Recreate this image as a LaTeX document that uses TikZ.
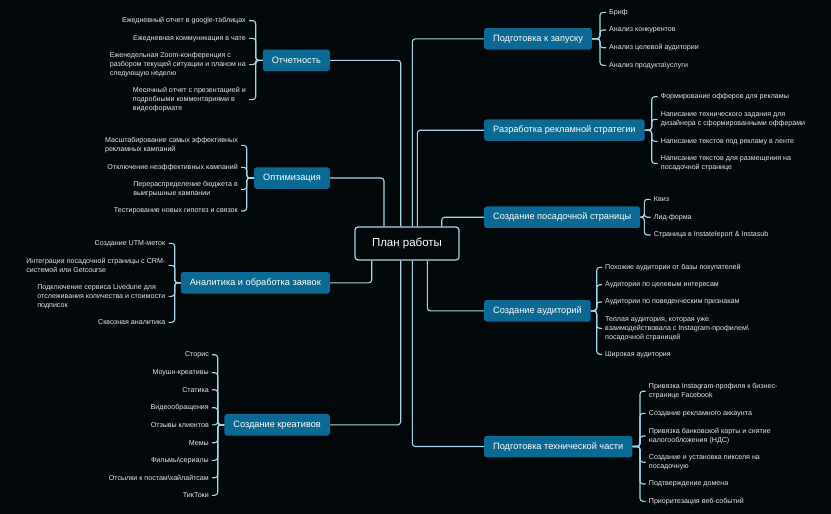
\documentclass[tikz,border=0pt]{standalone}
\usepackage{fontspec}
\setmainfont{Liberation Sans}
\definecolor{bg}{HTML}{03080B}
\definecolor{boxc}{HTML}{0B6A93}
\definecolor{linec}{HTML}{A6D6E6}
\definecolor{txt}{HTML}{E6E6E6}
\begin{document}
\begin{tikzpicture}[x=1pt,y=-1pt,
 main/.style={fill=boxc,text=white,rounded corners=2.5pt,font=\fontsize{9.2}{11}\selectfont,minimum height=21.5pt,inner xsep=9pt,inner ysep=0pt},
 lfL/.style={anchor=east,align=left,text=txt,font=\fontsize{7.1}{9}\selectfont,inner sep=0pt},
 lfR/.style={anchor=west,align=left,text=txt,font=\fontsize{7.1}{9}\selectfont,inner sep=0pt},
 conn/.style={draw=linec,line width=1.1pt,rounded corners=3pt}]
\fill[bg] (0,0) rectangle (831,514);
\useasboundingbox (0,0) rectangle (831,514);

% center
\node[draw=linec,fill=bg,line width=1.2pt,rounded corners=3pt,minimum width=104pt,minimum height=33pt,font=\fontsize{11.5}{13}\selectfont,text=white] (c) at (407,243.5) {План работы};

% main nodes
\node[main,anchor=east] (mO) at (330,60.3) {Отчетность};
\node[main,anchor=east] (mP) at (330,178) {Оптимизация};
\node[main,anchor=east] (mA) at (330,282.8) {Аналитика и обработка заявок};
\node[main,anchor=east] (mK) at (330,424.8) {Создание креативов};
\node[main,anchor=west] (mZ) at (484,38.8) {Подготовка к запуску};
\node[main,anchor=west] (mR) at (484,130.2) {Разработка рекламной стратегии};
\node[main,anchor=west] (mS) at (484,217.2) {Создание посадочной страницы};
\node[main,anchor=west] (mU) at (484,310.8) {Создание аудиторий};
\node[main,anchor=west] (mT) at (484,446.5) {Подготовка технической части};

% main connectors
\draw[conn] ([xshift=-6.3pt]c.north) |- (mO.east);
\draw[conn] ([xshift=-23pt]c.north) |- (mP.east);
\draw[conn] ([xshift=-35.3pt]c.south) |- (mA.east);
\draw[conn] ([xshift=-6.3pt]c.south) |- (mK.east);
\draw[conn] ([xshift=5.3pt]c.north) |- (mZ.west);
\draw[conn] ([xshift=10.3pt]c.north) |- (mR.west);
\draw[conn] ([xshift=34.7pt]c.north) |- (mS.west);
\draw[conn] ([xshift=20.3pt]c.south) |- (mU.west);
\draw[conn] ([xshift=5.3pt]c.south) |- (mT.west);

% spines
\coordinate (sO) at (255.7,0);
\coordinate (sP) at (246.7,0);
\coordinate (sA) at (174.7,0);
\coordinate (sK) at (217.7,0);
\coordinate (sZ) at (600,0);
\coordinate (sR) at (651.7,0);
\coordinate (sS) at (644.3,0);
\coordinate (sU) at (596.7,0);
\coordinate (sT) at (640,0);

% Отчетность leaves
\node[lfL] (o1) at (246,20.7) {Ежедневный отчет в google-таблицах};
\node[lfL] (o2) at (246,38.3) {Ежедневная коммуникация в чате};
\node[lfL] (o3) at (246,64.6) {Еженедельная Zoom-конференция с\\разбором текущей ситуации и планом на\\следующую неделю};
\node[lfL] (o4) at (246,99.6) {Месячный отчет с презентацией и\\подробными комментариями в\\видеоформате};
\foreach \n in {o1,o2,o3,o4}
  \draw[conn] (mO.west) -- (mO.west -| sO) |- ([xshift=3pt]\n.east);

% Оптимизация leaves
\node[lfL] (p1) at (238,145.4) {Масштабирование самых эффективных\\рекламных кампаний};
\node[lfL] (p2) at (238,167.3) {Отключение неэффективных кампаний};
\node[lfL] (p3) at (238,189.5) {Перераспределение бюджета в\\выигрышные кампании};
\node[lfL] (p4) at (238,211) {Тестирование новых гипотез и связок};
\foreach \n in {p1,p2,p3,p4}
  \draw[conn] (mP.west) -- (mP.west -| sP) |- ([xshift=3pt]\n.east);

% Аналитика leaves
\node[lfL] (a1) at (165.5,243.3) {Создание UTM-меток};
\node[lfL] (a2) at (165.5,265.3) {Интеграция посадочной страницы с CRM-\\системой или Getcourse};
\node[lfL] (a3) at (165.5,296.3) {Подключение сервиса Livedune для\\отслеживания количества и стоимости\\подписок};
\node[lfL] (a4) at (165.5,322.3) {Сквозная аналитика};
\foreach \n in {a1,a2,a3,a4}
  \draw[conn] (mA.west) -- (mA.west -| sA) |- ([xshift=3pt]\n.east);

% Креативы leaves
\node[lfL] (k1) at (209,354.7) {Сторис};
\node[lfL] (k2) at (209,372.7) {Моушн-креативы};
\node[lfL] (k3) at (209,389.7) {Статика};
\node[lfL] (k4) at (209,407.7) {Видеообращения};
\node[lfL] (k5) at (209,424.8) {Отзывы клиентов};
\node[lfL] (k6) at (209,442.7) {Мемы};
\node[lfL] (k7) at (209,460.3) {Фильмы\textbackslash{}сериалы};
\node[lfL] (k8) at (209,477.7) {Отсылки к постам\textbackslash{}хайлайтсам};
\node[lfL] (k9) at (209,495.3) {ТикТоки};
\foreach \n in {k1,k2,k3,k4,k5,k6,k7,k8,k9}
  \draw[conn] (mK.west) -- (mK.west -| sK) |- ([xshift=3pt]\n.east);

% Подготовка к запуску leaves
\node[lfR] (z1) at (609,12.3) {Бриф};
\node[lfR] (z2) at (609,30) {Анализ конкурентов};
\node[lfR] (z3) at (609,47.7) {Анализ целевой аудитории};
\node[lfR] (z4) at (609,65.3) {Анализ продукта\textbackslash{}услуги};
\foreach \n in {z1,z2,z3,z4}
  \draw[conn] (mZ.east) -- (mZ.east -| sZ) |- ([xshift=-3pt]\n.west);

% Разработка leaves
\node[lfR] (r1) at (660.7,96.7) {Формирование офферов для рекламы};
\node[lfR] (r2) at (660.7,119.3) {Написание технического задания для\\дизайнера с сформированными офферами};
\node[lfR] (r3) at (660.7,141.3) {Написание текстов под рекламу в ленте};
\node[lfR] (r4) at (660.7,163.5) {Написание текстов для размещения на\\посадочной странице};
\foreach \n in {r1,r2,r3,r4}
  \draw[conn] (mR.east) -- (mR.east -| sR) |- ([xshift=-3pt]\n.west);

% Посадочная leaves
\node[lfR] (q1) at (653.7,199.3) {Квиз};
\node[lfR] (q2) at (653.7,217.2) {Лид-форма};
\node[lfR] (q3) at (653.7,235) {Страница в Instateleport \& Instasub};
\foreach \n in {q1,q2,q3}
  \draw[conn] (mS.east) -- (mS.east -| sS) |- ([xshift=-3pt]\n.west);

% Аудитории leaves
\node[lfR] (u1) at (605,267.3) {Похожие аудитории от базы покупателей};
\node[lfR] (u2) at (605,284.7) {Аудитории по целевым интересам};
\node[lfR] (u3) at (605,302) {Аудитории по поведенческим признакам};
\node[lfR] (u4) at (605,328.3) {Теплая аудитория, которая уже\\взаимодействовала с Instagram-профилем\textbackslash\\посадочной страницей};
\node[lfR] (u5) at (605,354.3) {Широкая аудитория};
\foreach \n in {u1,u2,u3,u4,u5}
  \draw[conn] (mU.east) -- (mU.east -| sU) |- ([xshift=-3pt]\n.west);

% Тех часть leaves
\node[lfR] (t1) at (648.7,391.2) {Привязка Instagram-профиля к бизнес-\\странице Facebook};
\node[lfR] (t2) at (648.7,413.3) {Создание рекламного аккаунта};
\node[lfR] (t3) at (648.7,436) {Привязка банковской карты и снятие\\налогообложения (НДС)};
\node[lfR] (t4) at (648.7,462.2) {Создание и установка пикселя на\\посадочную};
\node[lfR] (t5) at (648.7,484) {Подтверждение домена};
\node[lfR] (t6) at (648.7,501.3) {Приоритезация веб-событий};
\foreach \n in {t1,t2,t3,t4,t5,t6}
  \draw[conn] (mT.east) -- (mT.east -| sT) |- ([xshift=-3pt]\n.west);
\end{tikzpicture}
\end{document}
